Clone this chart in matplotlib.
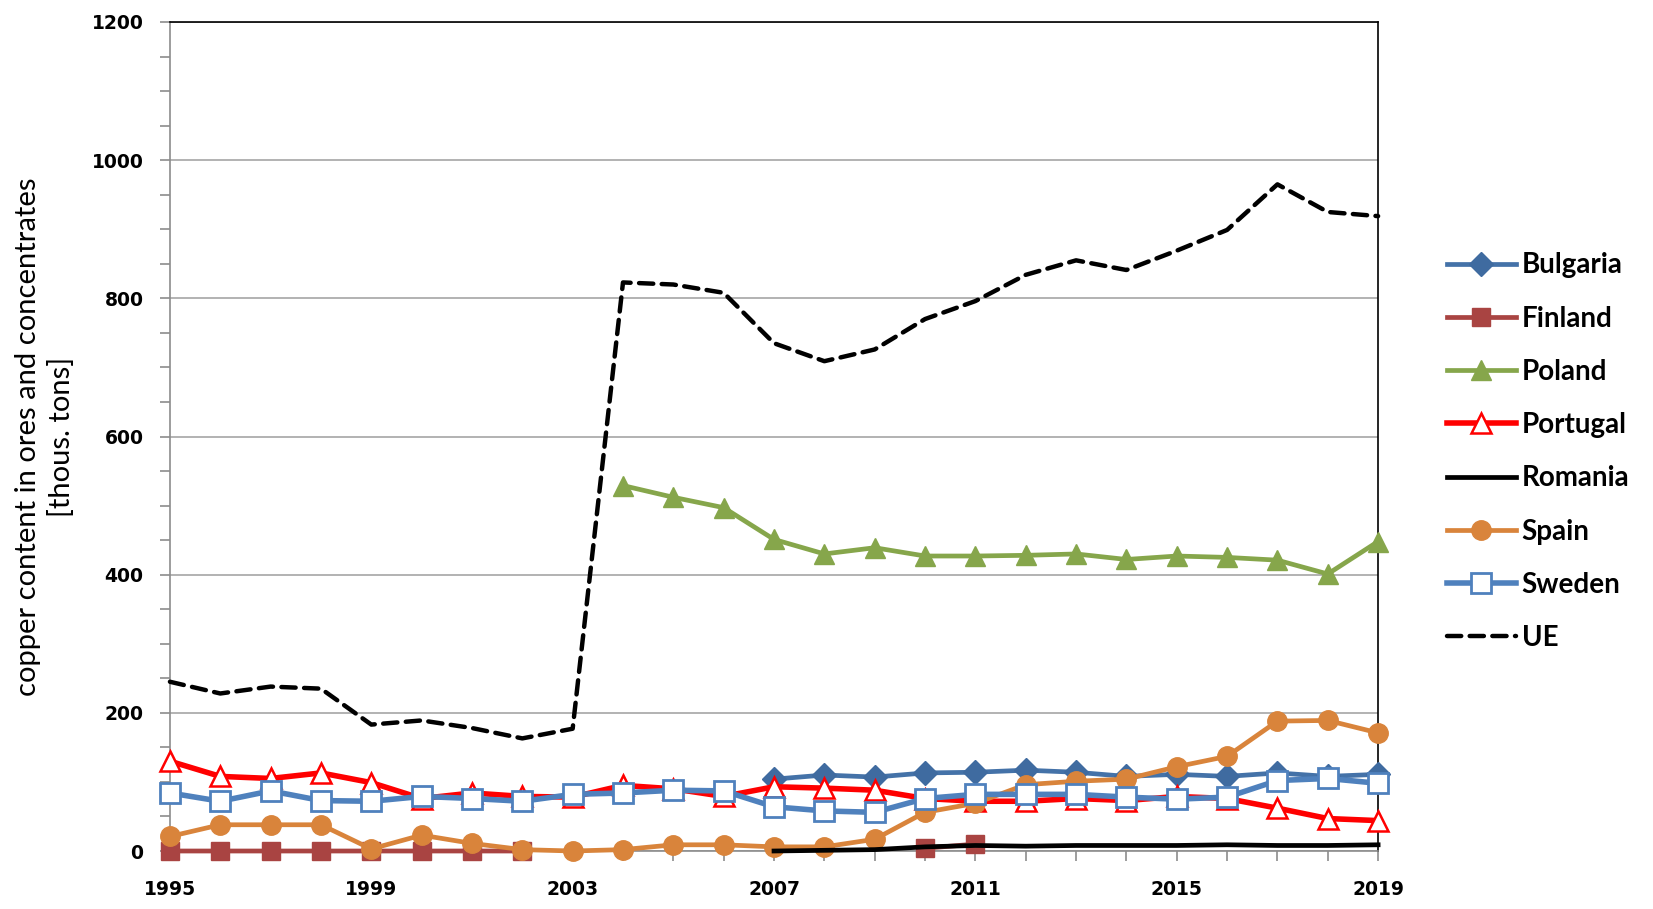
import numpy as np
import matplotlib.pyplot as plt
from matplotlib.ticker import MultipleLocator

years = np.arange(1995, 2020)
nan = np.nan

# copper content in ores and concentrates [thous. tons]
bulgaria = [nan]*12 + [104, 110, 107, 113, 114, 117, 114, 108, 111, 108, 113, 108, 111]
finland = [0, 0, 0, 0, 0, 0, 0, 0] + [nan]*7 + [4, 10] + [nan]*8
poland = [nan]*9 + [529, 512, 497, 451, 430, 439, 427, 427, 428, 430, 422, 427, 425, 421, 401, 448]
portugal = [130, 108, 105, 113, 99, 76, 84, 79, 78, 95, 90, 79, 93, 91, 88, 76, 72, 72, 76, 73, 79, 76, 62, 47, 44]
romania = [nan]*12 + [0, 1, 2, 6, 8, 7, 8, 8, 8, 9, 8, 8, 9]
spain = [21, 38, 38, 38, 3, 23, 11, 2, 0, 2, 9, 9, 6, 6, 17, 56, 69, 96, 101, 104, 122, 137, 188, 189, 171]
sweden = [84, 72, 87, 73, 72, 79, 76, 72, 82, 84, 88, 87, 64, 58, 56, 76, 82, 82, 82, 78, 75, 78, 102, 105, 98]
ue = [245, 228, 238, 235, 183, 189, 178, 163, 177, 823, 820, 808, 735, 709, 726, 770, 796, 834, 855, 841, 869, 899, 965, 925, 919]

fig = plt.figure(figsize=(16.53, 9.09), dpi=100)
ax = fig.add_axes([0.1028, 0.0638, 0.7309, 0.912])

lw = 3.4
ax.plot(years, bulgaria, color='#4472A8', lw=lw, marker='D', ms=12, mfc='#3F6BA0', mec='#3F6BA0', label='Bulgaria', zorder=4, clip_on=False)
ax.plot(years, finland, color='#A94442', lw=lw, marker='s', ms=13, mfc='#A94442', mec='#A94442', label='Finland', zorder=3, clip_on=False)
ax.plot(years, poland, color='#86A64B', lw=lw, marker='^', ms=14, mfc='#86A64B', mec='#86A64B', label='Poland', zorder=4, clip_on=False)
ax.plot(years, portugal, color='#FF0000', lw=lw + 0.6, marker='^', ms=14, mfc='white', mec='#FF0000', mew=1.8, label='Portugal', zorder=4, clip_on=False)
ax.plot(years, romania, color='black', lw=lw, label='Romania', zorder=5, clip_on=False)
ax.plot(years, spain, color='#D9843B', lw=lw, marker='o', ms=14, mfc='#D9843B', mec='#D9843B', label='Spain', zorder=4, clip_on=False)
ax.plot(years, sweden, color='#4F81BD', lw=lw + 0.6, marker='s', ms=15, mfc='white', mec='#4F81BD', mew=2, label='Sweden', zorder=5, clip_on=False)
ax.plot(years, ue, color='black', lw=3.2, linestyle=(0, (3.2, 1.9)), dash_capstyle='round', label='UE', zorder=4, clip_on=False)

ax.set_xlim(1995, 2019)
ax.set_ylim(0, 1200)
ax.set_xticks(np.arange(1995, 2020, 4))
ax.xaxis.set_minor_locator(MultipleLocator(1))
ax.yaxis.set_major_locator(MultipleLocator(200))
ax.yaxis.set_minor_locator(MultipleLocator(50))
ax.grid(axis='y', which='major', color='#A6A6A6', lw=1.2)
ax.set_axisbelow(True)

for side in ['left', 'bottom']:
    ax.spines[side].set_color('#8C8C8C')
    ax.spines[side].set_linewidth(1.2)
for side in ['top', 'right']:
    ax.spines[side].set_color('black')
    ax.spines[side].set_linewidth(1.2)

ax.tick_params(which='both', direction='out', color='#8C8C8C', width=1.2, length=7)
ax.tick_params(axis='x', pad=14)
ax.tick_params(axis='y', pad=12)
for lab in ax.get_xticklabels() + ax.get_yticklabels():
    lab.set_fontsize(13.5)
    lab.set_fontweight('bold')
    lab.set_family('DejaVu Sans')

ax.set_ylabel('copper content in ores and concentrates\n[thous. tons]', fontsize=21, family='Lato', linespacing=1.3, labelpad=12)

fig.legend(loc='center left', bbox_to_anchor=(0.860, 0.503), frameon=False,
           prop={'family': 'Lato', 'weight': 'bold', 'size': 20},
           handlelength=2.5, handletextpad=0.2, labelspacing=0.98, borderpad=0.4)

fig.savefig('out.png', dpi=100)
